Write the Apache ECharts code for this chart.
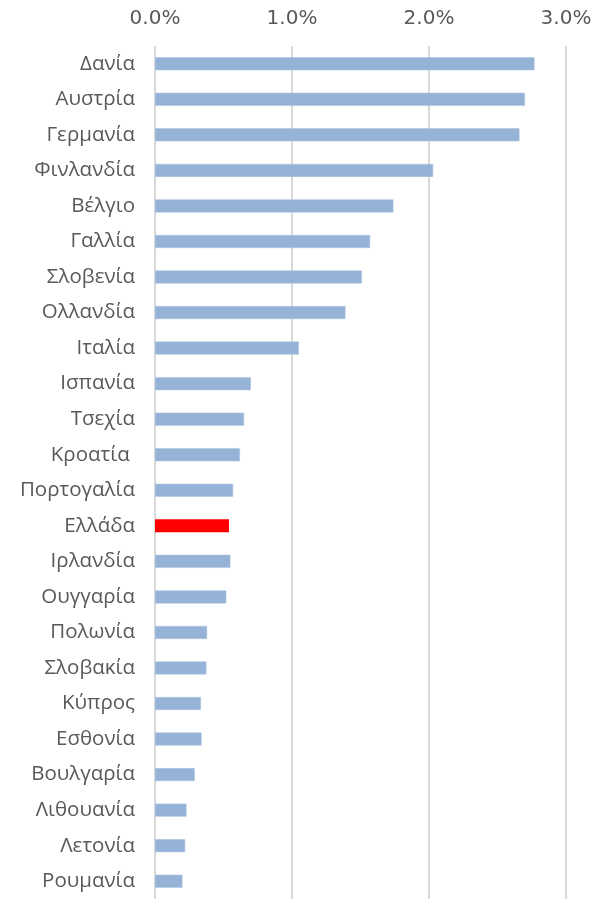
<!DOCTYPE html>
<html>
<head>
<meta charset="utf-8">
<script src="https://cdn.jsdelivr.net/npm/echarts@6/dist/echarts.min.js"></script>
<style>
    html, body { margin: 0; padding: 0; background: #fff; }
    #chart { width: 607px; height: 899px; }
</style>
</head>
<body>
<div id="chart"></div>
<script>
// χώρες, από πάνω προς τα κάτω
const countries = ['Δανία', 'Αυστρία', 'Γερμανία', 'Φινλανδία', 'Βέλγιο', 'Γαλλία', 'Σλοβενία', 'Ολλανδία',
    'Ιταλία', 'Ισπανία', 'Τσεχία', 'Κροατία ', 'Πορτογαλία', 'Ελλάδα', 'Ιρλανδία', 'Ουγγαρία',
    'Πολωνία', 'Σλοβακία', 'Κύπρος', 'Εσθονία', 'Βουλγαρία', 'Λιθουανία', 'Λετονία', 'Ρουμανία'];
// τιμές σε %
const values = [2.77, 2.70, 2.66, 2.03, 1.74, 1.57, 1.51, 1.39,
    1.05, 0.70, 0.65, 0.62, 0.57, 0.54, 0.55, 0.52,
    0.38, 0.375, 0.335, 0.34, 0.29, 0.23, 0.22, 0.20];
const highlight = 'Ελλάδα';
const xTicks = [0, 1, 2, 3];

const chart = echarts.init(document.getElementById('chart'));

const textColor = '#595959';
const gridColor = '#d9d9d9';

const option = {
    animation: false,
    grid: {
        left: 155,
        right: 41,
        top: 46,
        height: 854
    },
    xAxis: {
        type: 'value',
        position: 'top',
        min: xTicks[0],
        max: xTicks[xTicks.length - 1],
        interval: 1,
        axisLine: { show: false },
        axisTick: { show: false },
        splitLine: { lineStyle: { color: gridColor, width: 2 } },
        axisLabel: {
            color: textColor,
            fontFamily: 'DejaVu Sans',
            fontSize: 20,
            margin: 17,
            formatter: v => v.toFixed(1) + '%'
        }
    },
    yAxis: {
        type: 'category',
        data: countries,
        inverse: true,
        axisLine: { show: false },
        axisTick: { show: false },
        axisLabel: {
            color: textColor,
            fontFamily: 'Open Sans',
            fontSize: 20.5,
            margin: 20
        }
    },
    series: [
        {
            type: 'bar',
            barWidth: 13,
            data: values.map((v, i) => ({
                value: v,
                itemStyle: countries[i] === highlight
                    ? { color: '#ff0000' }
                    : { color: '#95b3d7', borderColor: '#aac3e0', borderWidth: 0.5 }
            }))
        }
    ]
};

chart.setOption(option);
</script>
</body>
</html>
